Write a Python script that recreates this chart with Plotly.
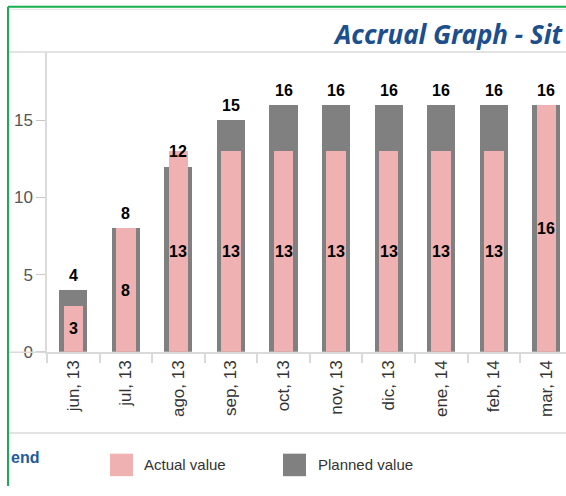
import plotly.graph_objects as go

months = ["jun, 13", "jul, 13", "ago, 13", "sep, 13", "oct, 13", "nov, 13",
          "dic, 13", "ene, 14", "feb, 14", "mar, 14"]
actual = [3, 8, 13, 13, 13, 13, 13, 13, 13, 16]
planned = [4, 8, 12, 15, 16, 16, 16, 16, 16, 16]
y_ticks = [0, 5, 10, 15]

PINK = "#EFB1B1"
GRAY = "#808080"
LINE = "#dadada"
GREEN = "#14b04c"
BLUE = "#1c4f8c"

W, H = 566, 496
def px(x):
    return x / W
def py(y):
    return (H - y) / H

fig = go.Figure()
fig.add_trace(go.Bar(x=months, y=planned, width=0.535, marker=dict(color=GRAY, line=dict(width=0)),
                     name="Planned value", hoverinfo="x+y"))
fig.add_trace(go.Bar(x=months, y=actual, width=0.37, marker=dict(color=PINK, line=dict(width=0)),
                     name="Actual value", hoverinfo="x+y"))

annotations = []
for m, p, a in zip(months, planned, actual):
    annotations.append(dict(x=m, y=p, xref="x", yref="y", text=str(p), showarrow=False,
                            yshift=15, yanchor="middle",
                            font=dict(family="Liberation Sans", size=16, color="#000", weight="bold")))
    annotations.append(dict(x=m, y=a / 2, xref="x", yref="y", text=str(a), showarrow=False,
                            yanchor="middle",
                            font=dict(family="Liberation Sans", size=16, color="#000", weight="bold")))

# title
annotations.append(dict(x=px(331), y=py(35), xref="paper", yref="paper", xanchor="left", yanchor="middle",
                        text="Accrual Graph - Sit", showarrow=False,
                        font=dict(family="Noto Sans", size=26, color=BLUE, weight="bold", style="italic")))
# legend
annotations.append(dict(x=px(9), y=py(467), xref="paper", yref="paper", xanchor="left", yanchor="middle",
                        text="end", showarrow=False,
                        font=dict(family="Liberation Sans", size=16, color="#1f5a9e", weight="bold")))
annotations.append(dict(x=px(142), y=py(474), xref="paper", yref="paper", xanchor="left", yanchor="middle",
                        text="Actual value", showarrow=False,
                        font=dict(family="Liberation Sans", size=15, color="#333")))
annotations.append(dict(x=px(316), y=py(474), xref="paper", yref="paper", xanchor="left", yanchor="middle",
                        text="Planned value", showarrow=False,
                        font=dict(family="Liberation Sans", size=15, color="#333")))

shapes = [
    dict(type="line", xref="paper", yref="paper", x0=px(8), x1=1, y0=py(9.5), y1=py(9.5),
         line=dict(color="#e2e2e2", width=1)),
    dict(type="line", xref="paper", yref="paper", x0=px(8), x1=1, y0=py(7), y1=py(7),
         line=dict(color=GREEN, width=2)),
    dict(type="line", xref="paper", yref="paper", x0=px(8), x1=px(8), y0=0, y1=py(7),
         line=dict(color=GREEN, width=2)),
    dict(type="line", xref="paper", yref="paper", x0=px(9), x1=1, y0=py(53), y1=py(53),
         line=dict(color=LINE, width=1.5)),
    dict(type="line", xref="paper", yref="paper", x0=px(9), x1=px(47), y0=py(359.5), y1=py(359.5),
         line=dict(color=LINE, width=1.5)),
    dict(type="line", xref="paper", yref="paper", x0=px(9), x1=1, y0=py(442), y1=py(442),
         line=dict(color=LINE, width=1.5)),
    dict(type="rect", xref="paper", yref="paper", x0=px(110), x1=px(133), y0=py(486), y1=py(463),
         fillcolor=PINK, line=dict(width=0)),
    dict(type="rect", xref="paper", yref="paper", x0=px(283), x1=px(306), y0=py(486), y1=py(463),
         fillcolor=GRAY, line=dict(width=0)),
]

fig.update_layout(
    width=W, height=H,
    margin=dict(l=0, r=0, t=0, b=0),
    paper_bgcolor="white", plot_bgcolor="white",
    barmode="overlay", bargap=0,
    showlegend=False,
    annotations=annotations,
    shapes=shapes,
    xaxis=dict(type="category", domain=[px(47), 1], range=[-0.5, 9.374],
               showgrid=False, zeroline=False, showline=True, linecolor=LINE, linewidth=1.5,
               ticks="outside", tickson="boundaries", ticklen=9, tickcolor=LINE, tickwidth=1.5,
               tickangle=-90, tickfont=dict(family="Liberation Sans", size=17, color="#333")),
    yaxis=dict(domain=[py(359), py(53)], range=[0, 306 / 15.74],
               tickvals=y_ticks, showgrid=False, zeroline=False,
               showline=True, linecolor=LINE, linewidth=1.5,
               ticks="outside", ticklen=9, tickcolor="#c8c8c8", tickwidth=1,
               tickfont=dict(family="Liberation Sans", size=17, color="#555")),
)

fig.write_html("out.html", config={"displayModeBar": False},
               post_script="document.body.style.margin='0';document.body.style.overflow='hidden';")
